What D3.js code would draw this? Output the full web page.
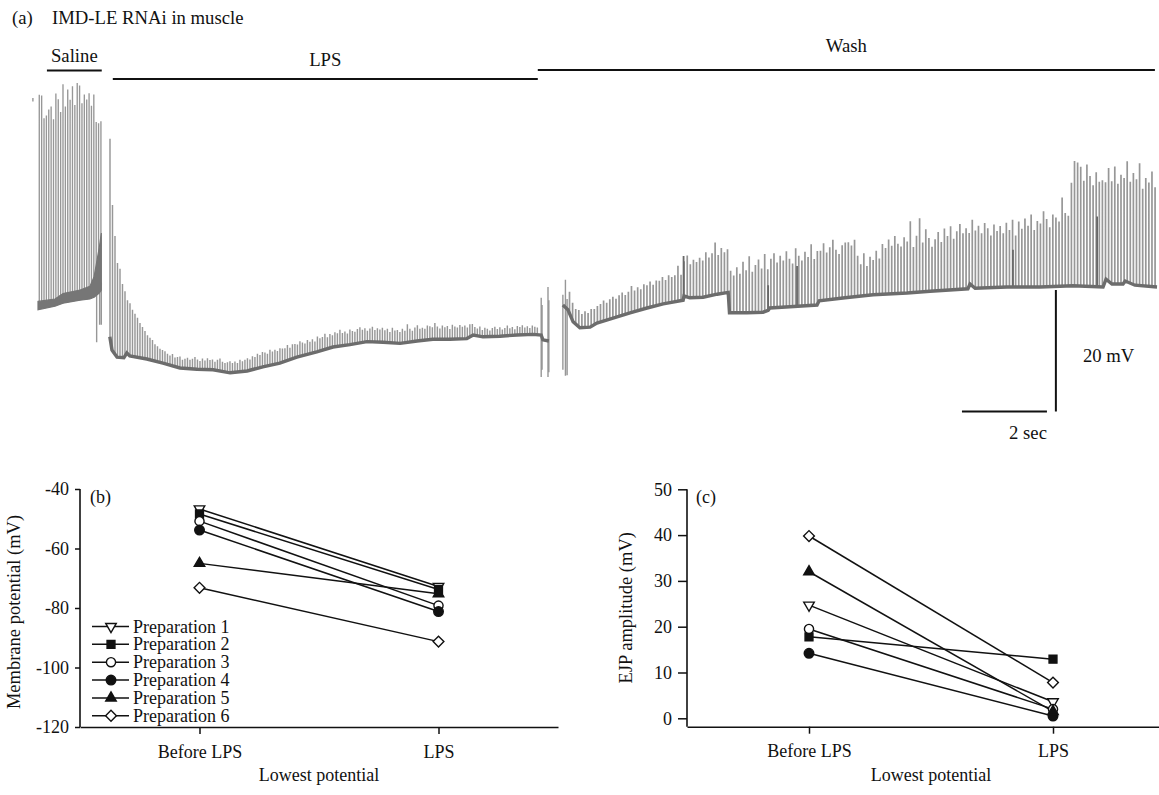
<!DOCTYPE html>
<html>
<head>
<meta charset="utf-8">
<script src="https://cdn.jsdelivr.net/npm/d3@7"></script>
<style>
  html, body { margin: 0; padding: 0; background: #fff; }
  svg { display: block; font-family: "Liberation Serif", "Times New Roman", serif; }
</style>
</head>
<body>
<svg id="fig" width="1159" height="795"></svg>
<script>
// ---------------- summary data, panels (b) and (c) ----------------
const preparations = ["Preparation 1", "Preparation 2", "Preparation 3",
                      "Preparation 4", "Preparation 5", "Preparation 6"];
const conditions = ["Before LPS", "LPS"];
const membraneBefore = [-46.7, -48.4, -50.8, -53.8, -65.0, -73.2];
const membraneLps    = [-72.8, -73.8, -79.2, -81.2, -75.2, -91.3];
const ejpBefore = [24.7, 17.8, 19.5, 14.2, 32.0, 39.8];
const ejpLps    = [3.6, 12.9, 2.0, 0.5, 1.5, 7.8];
const membraneTicks = [-40, -60, -80, -100, -120];
const ejpTicks = [0, 10, 20, 30, 40, 50];

// ---------------- intracellular recording, panel (a) ----------------
// treatment periods (s)
const treatmentNames = ["Saline", "LPS", "Wash"];
const treatmentStart = [0.21, 1.76, 11.76];
const treatmentEnd   = [1.50, 11.76, 26.28];

// resting level during saline: [time s, trough mV, top of summation band mV]
const restSaline = [
  [0.00, -53.3, -51.9], [0.40, -52.7, -51.5], [0.59, -52.2, -50.6], [0.99, -51.7, -50.0],
  [1.22, -51.5, -49.4], [1.32, -51.2, -47.8], [1.44, -50.5, -43.0], [1.49, -50.0, -40.5]
];
// resting level during LPS: [time s, mV]
const restLps = [
  [1.69, -57.8], [1.74, -60.0], [1.86, -61.2], [2.02, -61.3], [2.09, -60.5], [2.16, -61.0],
  [2.56, -61.5], [2.94, -62.2], [3.34, -63.0], [3.74, -63.2], [4.12, -63.3], [4.52, -63.8],
  [4.92, -63.5], [5.29, -62.8], [5.69, -62.2], [6.09, -61.2], [6.56, -60.3], [6.94, -59.5],
  [7.34, -59.1], [7.74, -58.6], [8.12, -58.7], [8.52, -58.9], [8.92, -58.5], [9.29, -58.2],
  [9.69, -58.2], [10.09, -58.1], [10.24, -57.5], [10.47, -57.8], [10.87, -57.7], [11.27, -57.5],
  [11.65, -57.4], [11.84, -57.5], [11.88, -58.3], [12.02, -58.5]
];
// resting level during wash: [time s, mV]
const restWash = [
  [12.35, -52.5], [12.47, -53.3], [12.59, -55.3], [12.75, -56.3], [12.99, -56.2], [13.15, -55.5],
  [13.53, -54.7], [13.93, -53.8], [14.33, -53.0], [14.71, -52.3], [15.18, -51.7], [15.20, -51.0],
  [15.34, -51.3], [15.65, -51.2], [15.98, -50.7], [16.24, -50.4], [16.27, -53.8], [16.68, -53.8],
  [17.06, -53.7], [17.18, -53.4], [17.22, -53.0], [17.69, -52.8], [18.33, -52.5], [18.38, -51.8],
  [18.99, -51.3], [19.65, -50.8], [20.45, -50.5], [20.99, -50.2], [21.88, -49.8], [21.93, -49.0],
  [22.05, -49.7], [22.80, -49.5], [23.58, -49.5], [24.35, -49.3], [25.06, -49.5], [25.13, -48.2],
  [25.27, -49.0], [25.53, -49.0], [25.58, -48.5], [25.81, -49.2], [26.33, -49.5]
];

// evoked EJPs: first stimulus time (s), interval (s), amplitudes above rest (mV)
const salineStimStart = 0.03, salineStimInterval = 0.0558;
const salineEjp = [
  35.8, 35.6, 31.7, 32.1, 33.0, 33.4, 31.2, 35.4, 34.3, 32.0,
  36.5, 32.7, 35.5, 33.7, 35.9, 32.7, 36.3, 35.8, 32.8, 34.2,
  33.3, 34.3, 32.1, 33.8, 28.9, 28.4, 28.2
];
const lpsStimStart = 1.694, lpsStimInterval = 0.0588;
const lpsEjp = [
  33.2, 24.3, 19.7, 15.7, 14.8, 12.3, 10.8, 8.9, 8.8, 7.8,
  7.2, 6.6, 5.8, 5.2, 4.6, 4.0, 3.7, 3.4, 2.8, 2.6,
  2.3, 2.2, 2.1,
  1.8, 1.6, 2.0, 1.5, 1.7, 1.9, 1.4, 1.6, 1.8, 1.5,
  1.7, 2.0, 1.6, 1.4, 1.8, 1.5, 1.9, 1.6, 1.7, 1.4,
  1.8, 2.1, 1.6, 1.5, 1.7, 1.9, 1.6, 1.8, 1.5, 2.0,
  1.7, 1.9, 2.1, 1.8,
  2.2, 2.0, 2.4, 2.1, 2.5, 2.3, 2.0, 2.6, 2.2, 2.4,
  2.1, 2.5, 2.3, 2.2, 2.6, 2.0, 2.4, 2.3, 2.1, 2.5,
  2.2, 1.9, 2.4, 2.0, 2.3, 1.8, 2.5, 2.1, 2.2, 2.6,
  1.9, 2.3, 2.0, 2.4, 2.2, 2.7, 2.1, 2.3, 1.9, 2.5,
  2.2, 2.0, 2.4, 2.6, 2.1, 2.3, 1.8, 2.2, 2.5, 2.0,
  2.3, 2.1, 2.4,
  2.0, 2.3, 1.8, 2.5, 2.1, 2.2, 1.9, 2.4, 2.0, 3.0,
  2.2, 1.8, 2.3, 2.6, 2.0, 2.1, 1.9, 2.4, 2.2, 2.0,
  2.7, 2.1, 1.8, 2.3, 2.0, 2.2, 1.7, 2.4, 2.1, 1.9,
  2.3, 2.0, 2.2, 1.8, 2.1, 1.9,
  1.4, 1.2, 1.6, 1.1, 1.5, 1.3, 1.0, 1.4, 1.6, 1.2,
  1.5, 1.1, 1.3, 1.7, 1.2, 1.4, 1.0, 1.5, 1.3, 1.6,
  1.2, 1.4, 1.1, 1.5, 1.3, 1.2
];
const washStimStart = 12.506, washStimInterval = 0.0729;
const washEjp = [
  3.6, 3.0, 2.5, 2.8, 2.3, 2.7, 2.4, 2.9, 2.6, 2.8,
  3.0, 3.4, 2.9, 3.3, 3.6, 3.1, 3.5, 3.8, 3.2, 3.6,
  4.4, 3.5, 3.9, 3.4, 4.1, 3.8, 4.3, 3.6, 4.2, 4.0,
  4.5, 3.9, 4.6, 4.2, 4.4, 5.9, 4.3,
  5.8, 6.9, 5.6, 6.3, 5.9, 6.6, 6.1, 7.4, 6.4, 7.0, 8.7, 6.5, 7.6, 6.8, 7.2,
  7.0, 6.2, 7.6, 6.5, 8.5, 7.1, 9.4, 6.8, 7.9, 8.8,
  7.3, 9.6, 6.9, 8.2, 9.1, 7.5, 8.6, 7.8, 9.3, 8.0,
  7.2, 9.7, 8.4, 7.6, 9.0, 8.1, 10.2, 7.7, 8.9, 8.3,
  9.5, 7.9, 8.7, 9.9, 8.2, 7.4, 8.8, 9.2,
  9.2, 8.6, 9.5, 6.8, 5.3, 7.1, 4.9, 6.4, 5.8, 7.3,
  6.0, 8.4, 7.7, 9.1, 8.0, 9.6, 8.3, 7.8, 9.3, 8.6,
  11.9, 7.6, 9.4, 12.3, 8.2, 10.4, 8.9,
  7.4, 8.6, 9.8, 8.1, 10.3, 9.0, 10.6, 8.5, 9.7, 10.9,
  9.3, 10.1, 8.8, 11.0, 9.6, 10.4, 9.1, 10.8, 9.9, 8.7,
  10.5, 9.4, 10.2, 9.0, 10.7, 9.5, 11.2,
  8.6, 10.9, 9.7, 11.4, 10.2, 12.1, 9.5, 11.0, 10.6, 12.6,
  11.3, 9.9, 12.0, 11.5, 10.8, 14.8, 12.2, 11.7,
  17.2, 20.8, 20.6, 19.9, 17.6, 20.3, 18.4, 16.9, 19.1, 17.5,
  17.8, 16.4, 18.9, 17.1, 19.6, 16.7, 18.2, 17.4, 20.1, 16.9,
  18.6, 17.7, 20.4, 16.2, 18.0, 17.3, 19.2, 16.6
];
// slower spontaneous events during wash: [time s, amplitude mV]
const washSlowEvents = [[15.19, 7.0], [17.18, 4.2], [17.86, 6.7], [22.94, 6.2], [24.92, 11.7]];
// solution-exchange artefacts: [time s, upper mV, lower mV]
const artefacts = [
  [-0.12, -18.0, -18.6],
  [1.38, -50.0, -58.7], [1.45, -49.2, -55.8], [1.49, -48.7, -55.8],
  [11.84, -51.3, -64.5], [11.86, -52.5, -63.3], [12.00, -49.5, -64.5], [12.02, -51.7, -63.7],
  [12.35, -50.8, -63.3], [12.41, -48.3, -64.3], [12.45, -51.5, -64.2]
];
// calibration bars
const calibSeconds = 2, calibMillivolts = 20;

// ---------------- drawing ----------------
const svg = d3.select("#fig");
const ink = "#111";
const fontSize = 18;
const headFont = 18.7;

// ---- panel (a) ----
const xT = d3.scaleLinear().domain([0, 26.3]).range([38, 38 + 26.3 * 42.5]);
const yT = d3.scaleLinear().domain([-70, -50]).range([410, 290]);

svg.append("text").attr("x", 12).attr("y", 24).attr("font-size", headFont).attr("fill", ink).text("(a)");
svg.append("text").attr("x", 52).attr("y", 24).attr("font-size", headFont).attr("fill", ink).text("IMD-LE RNAi in muscle");

const barY = [70.5, 79, 70];
const labelY = [62, 66, 52];
treatmentNames.forEach((name, i) => {
  svg.append("line")
    .attr("x1", xT(treatmentStart[i])).attr("x2", xT(treatmentEnd[i]))
    .attr("y1", barY[i]).attr("y2", barY[i])
    .attr("stroke", ink).attr("stroke-width", 2);
  svg.append("text")
    .attr("x", (xT(treatmentStart[i]) + xT(treatmentEnd[i])) / 2)
    .attr("y", labelY[i]).attr("text-anchor", "middle")
    .attr("font-size", headFont).attr("fill", ink).text(name);
});

const trace = svg.append("g").attr("class", "trace");
const spikeGrey = "#979797", restGrey = "#6c6c6c";

function restScale(rest) {
  return d3.scaleLinear().domain(rest.map(d => d[0])).range(rest.map(d => d[1])).clamp(true);
}
function ejpPath(start, interval, amps, rest) {
  const r = restScale(rest);
  return d3.range(amps.length).map(i => {
    const t = start + i * interval, base = r(t);
    return `M${xT(t)},${yT(base)}V${yT(base + amps[i])}`;
  }).join("");
}

const spikeWidth = 1.45;
trace.append("path")
  .attr("d", ejpPath(salineStimStart, salineStimInterval, salineEjp, restSaline.map(d => [d[0], d[1]])))
  .attr("stroke", spikeGrey).attr("stroke-width", 1.35).attr("fill", "none");
trace.append("path")
  .attr("d", ejpPath(lpsStimStart, lpsStimInterval, lpsEjp, restLps))
  .attr("stroke", spikeGrey).attr("stroke-width", spikeWidth).attr("fill", "none");
trace.append("path")
  .attr("d", ejpPath(washStimStart, washStimInterval, washEjp, restWash))
  .attr("stroke", spikeGrey).attr("stroke-width", spikeWidth + 0.25).attr("fill", "none");

trace.append("path")
  .attr("d", artefacts.map(d => `M${xT(d[0])},${yT(d[1])}V${yT(d[2])}`).join(""))
  .attr("stroke", spikeGrey).attr("stroke-width", 1.4).attr("fill", "none");

const washRest = restScale(restWash);
trace.append("path")
  .attr("d", washSlowEvents.map(d => `M${xT(d[0])},${yT(washRest(d[0]))}V${yT(washRest(d[0]) + d[1])}`).join(""))
  .attr("stroke", "#686868").attr("stroke-width", 1.8).attr("fill", "none");

trace.append("path")
  .attr("d", d3.area().x(d => xT(d[0])).y0(d => yT(d[1])).y1(d => yT(d[2]))(restSaline))
  .attr("fill", "#767676").attr("stroke", "#767676").attr("stroke-width", 1.2);
const restLine = d3.line().x(d => xT(d[0])).y(d => yT(d[1]));
[restLps, restWash].forEach(rest => {
  trace.append("path").attr("d", restLine(rest))
    .attr("fill", "none").attr("stroke", restGrey).attr("stroke-width", 3.4);
});

// calibration
const calibT0 = 21.74, calibVx = 23.95, calibBase = -70;
svg.append("line")
  .attr("x1", xT(calibVx)).attr("x2", xT(calibVx))
  .attr("y1", yT(calibBase + calibMillivolts)).attr("y2", yT(calibBase) + 1.5)
  .attr("stroke", ink).attr("stroke-width", 2);
svg.append("line")
  .attr("x1", xT(calibT0)).attr("x2", xT(calibT0 + calibSeconds))
  .attr("y1", yT(calibBase) + 1.5).attr("y2", yT(calibBase) + 1.5)
  .attr("stroke", ink).attr("stroke-width", 2);
svg.append("text").attr("x", xT(calibVx) + 27).attr("y", 362)
  .attr("font-size", headFont).attr("fill", ink).text(`${calibMillivolts} mV`);
svg.append("text").attr("x", xT(calibT0 + calibSeconds)).attr("y", 439)
  .attr("text-anchor", "end").attr("font-size", headFont).attr("fill", ink).text(`${calibSeconds} sec`);

// ---- markers ----
const markerStyle = [
  { type: d3.symbolTriangle, size: 48, rotate: 180, fill: "#fff" },
  { type: d3.symbolSquare,   size: 62, rotate: 0,   fill: ink },
  { type: d3.symbolCircle,   size: 66, rotate: 0,   fill: "#fff" },
  { type: d3.symbolCircle,   size: 72, rotate: 0,   fill: ink },
  { type: d3.symbolTriangle, size: 48, rotate: 0,   fill: ink },
  { type: d3.symbolSquare,   size: 58, rotate: 45,  fill: "#fff" }
];
function marker(g, i, x, y) {
  const m = markerStyle[i];
  g.append("path")
    .attr("d", d3.symbol().type(m.type).size(m.size)())
    .attr("transform", `translate(${x},${y}) rotate(${m.rotate})`)
    .attr("fill", m.fill).attr("stroke", ink).attr("stroke-width", 1.4);
}

function pairedPanel(opts) {
  const g = svg.append("g");
  const x = d3.scalePoint().domain(conditions).range(opts.xRange).padding(0.5);
  const y = d3.scaleLinear().domain(opts.yDomain).range(opts.yRange);

  const yAxis = g.append("g").attr("transform", `translate(${opts.xRange[0]},0)`)
    .call(d3.axisLeft(y).tickValues(opts.ticks).tickFormat(d => String(d))
      .tickSize(opts.yTick).tickPadding(6).tickSizeOuter(0));
  yAxis.select(".domain").remove();
  g.append("line")
    .attr("x1", opts.xRange[0]).attr("x2", opts.xRange[0])
    .attr("y1", y(opts.yDomain[1])).attr("y2", opts.axisY)
    .attr("stroke", ink).attr("stroke-width", 1.6);

  g.append("g").attr("transform", `translate(0,${opts.axisY})`)
    .call(d3.axisBottom(x).tickSize(7).tickPadding(11).tickSizeOuter(0));

  g.selectAll(".tick line").attr("stroke", ink).attr("stroke-width", 1.5);
  g.selectAll(".domain").attr("stroke", ink).attr("stroke-width", 1.6);
  g.selectAll(".tick text").attr("font-size", fontSize).attr("fill", ink)
    .attr("font-family", "Liberation Serif, Times New Roman, serif");

  g.append("text")
    .attr("transform", `translate(${opts.titleX},${(opts.yRange[0] + opts.yRange[1]) / 2 + 4}) rotate(-90)`)
    .attr("text-anchor", "middle").attr("font-size", 18.5).attr("fill", ink).text(opts.yTitle);
  g.append("text")
    .attr("x", (opts.xRange[0] + opts.xRange[1]) / 2).attr("y", 781)
    .attr("text-anchor", "middle").attr("font-size", fontSize).attr("fill", ink).text("Lowest potential");
  g.append("text").attr("x", opts.tagX).attr("y", 503)
    .attr("font-size", fontSize).attr("fill", ink).text(opts.tag);

  const line = d3.line().x(d => x(d[0])).y(d => y(d[1]));
  preparations.forEach((p, i) => {
    g.append("path")
      .attr("d", line([[conditions[0], opts.before[i]], [conditions[1], opts.after[i]]]))
      .attr("fill", "none").attr("stroke", ink).attr("stroke-width", 1.5);
  });
  preparations.forEach((p, i) => {
    marker(g, i, x(conditions[0]), y(opts.before[i]));
    marker(g, i, x(conditions[1]), y(opts.after[i]));
  });
  return g;
}

const panelB = pairedPanel({
  xRange: [80, 558], yDomain: [-120, -40], yRange: [727, 489], axisY: 727,
  ticks: membraneTicks, yTick: 5, before: membraneBefore, after: membraneLps,
  yTitle: "Membrane potential (mV)", titleX: 20, tag: "(b)", tagX: 90
});
pairedPanel({
  xRange: [687, 1175], yDomain: [0, 50], yRange: [718.3, 489.3], axisY: 726.7,
  ticks: ejpTicks, yTick: 9, before: ejpBefore, after: ejpLps,
  yTitle: "EJP amplitude (mV)", titleX: 632, tag: "(c)", tagX: 696
});

// legend for panel (b)
const legend = panelB.append("g");
preparations.forEach((p, i) => {
  const ly = 626.5 + i * 17.85;
  legend.append("line").attr("x1", 92).attr("x2", 129).attr("y1", ly).attr("y2", ly)
    .attr("stroke", ink).attr("stroke-width", 1.5);
  marker(legend, i, 111, ly);
  legend.append("text").attr("x", 133).attr("y", ly + 6)
    .attr("font-size", fontSize).attr("fill", ink).text(p);
});
</script>
</body>
</html>
